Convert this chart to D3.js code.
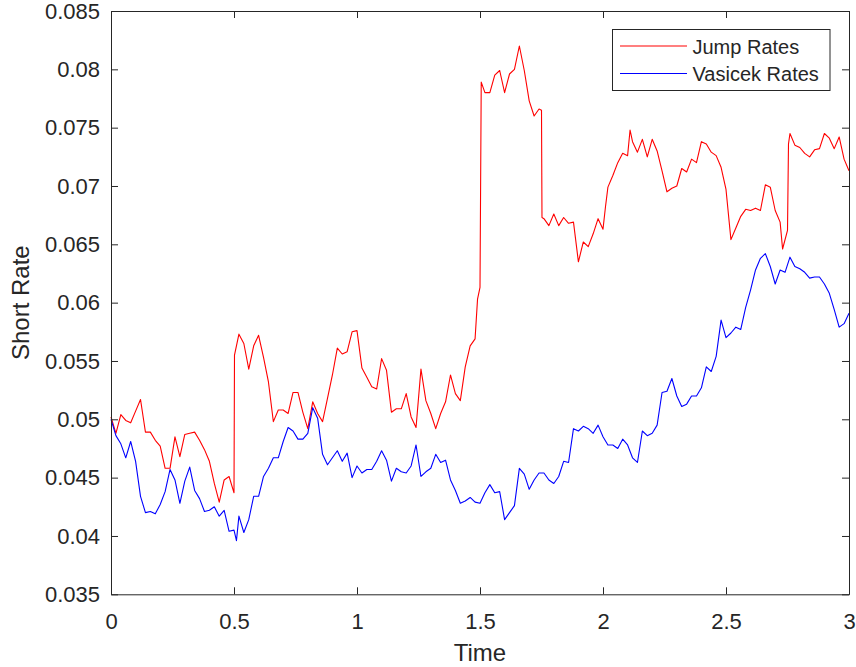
<!DOCTYPE html>
<html>
<head>
<meta charset="utf-8">
<script src="https://cdn.jsdelivr.net/npm/d3@7"></script>
<style>
  html, body { margin: 0; padding: 0; background: #fff; }
  svg { display: block; font-family: "Liberation Sans", Arial, Helvetica, sans-serif; }
</style>
</head>
<body>
<div id="chart"></div>
<script>
// jump-diffusion path (red) -- own time grid, extra points at the jumps
const jumpTimes = [
  0, 0.02, 0.04, 0.06, 0.08, 0.10, 0.12, 0.14, 0.16, 0.18, 0.20, 0.22, 0.24, 0.26, 0.28, 0.30,
  0.32, 0.34, 0.36, 0.38, 0.40, 0.42, 0.44, 0.46, 0.48, 0.50, 0.502, 0.52, 0.54, 0.56, 0.58, 0.60,
  0.62, 0.64, 0.66, 0.68, 0.70, 0.72, 0.74, 0.76, 0.78, 0.80, 0.82, 0.84, 0.86, 0.88, 0.90, 0.92,
  0.94, 0.96, 0.98, 1.00, 1.02, 1.04, 1.06, 1.08, 1.10, 1.12, 1.14, 1.16, 1.18, 1.20, 1.22, 1.24,
  1.26, 1.28, 1.30, 1.32, 1.34, 1.36, 1.38, 1.40, 1.42, 1.44, 1.46, 1.48, 1.49, 1.50, 1.505, 1.52,
  1.54, 1.56, 1.58, 1.60, 1.62, 1.64, 1.66, 1.68, 1.70, 1.72, 1.74, 1.75, 1.752, 1.76, 1.78, 1.80,
  1.82, 1.84, 1.86, 1.88, 1.90, 1.92, 1.94, 1.96, 1.98, 2.00, 2.01, 2.02, 2.04, 2.06, 2.08, 2.10,
  2.11, 2.12, 2.14, 2.16, 2.18, 2.20, 2.22, 2.24, 2.26, 2.28, 2.30, 2.32, 2.34, 2.36, 2.38, 2.40,
  2.42, 2.44, 2.46, 2.48, 2.50, 2.52, 2.54, 2.56, 2.58, 2.60, 2.62, 2.64, 2.66, 2.68, 2.70, 2.72,
  2.73, 2.75, 2.754, 2.76, 2.78, 2.80, 2.82, 2.84, 2.86, 2.88, 2.90, 2.92, 2.94, 2.96, 2.98, 3.00
];
const jumpRates = [
  0.0502, 0.0488, 0.0504, 0.0499, 0.0497, 0.0507, 0.0517, 0.0489, 0.0489, 0.0482, 0.0477, 0.0458, 0.0458, 0.0485, 0.0468, 0.0487,
  0.0488, 0.0489, 0.0482, 0.0474, 0.0464, 0.0445, 0.0429, 0.0448, 0.0451, 0.0437, 0.0555, 0.0573, 0.0565, 0.0543, 0.0563, 0.0572,
  0.0553, 0.0532, 0.0498, 0.0508, 0.0508, 0.0505, 0.0523, 0.0523, 0.0506, 0.0492, 0.0515, 0.0505, 0.0498, 0.0518, 0.0538, 0.0561,
  0.0556, 0.0558, 0.0575, 0.0576, 0.0544, 0.0536, 0.0528, 0.0526, 0.0552, 0.0542, 0.0506, 0.0509, 0.0509, 0.0522, 0.0502, 0.0493,
  0.0543, 0.0516, 0.0505, 0.0492, 0.0505, 0.0515, 0.0538, 0.0522, 0.0516, 0.0545, 0.0563, 0.0569, 0.0603, 0.0613, 0.0789, 0.0780,
  0.0780, 0.0795, 0.0799, 0.0780, 0.0796, 0.0800, 0.0820, 0.0799, 0.0773, 0.0760, 0.0766, 0.0765, 0.0673, 0.0672, 0.0666, 0.0676,
  0.0666, 0.0673, 0.0668, 0.0669, 0.0635, 0.0652, 0.0648, 0.0659, 0.0672, 0.0663, 0.0682, 0.0699, 0.0709, 0.0720, 0.0728, 0.0726,
  0.0748, 0.0738, 0.0729, 0.0740, 0.0725, 0.0740, 0.0730, 0.0713, 0.0695, 0.0698, 0.0700, 0.0715, 0.0712, 0.0723, 0.0720, 0.0738,
  0.0736, 0.0729, 0.0726, 0.0716, 0.0697, 0.0654, 0.0664, 0.0674, 0.0680, 0.0679, 0.0681, 0.0679, 0.0701, 0.0699, 0.0679, 0.0669,
  0.0646, 0.0662, 0.0736, 0.0745, 0.0735, 0.0733, 0.0728, 0.0725, 0.0731, 0.0732, 0.0745, 0.0741, 0.0732, 0.0742, 0.0723, 0.0713
];

// Vasicek path (blue)
const vasicekTimes = [
  0, 0.02, 0.04, 0.06, 0.08, 0.10, 0.12, 0.14, 0.16, 0.18, 0.20, 0.22, 0.24, 0.26, 0.28, 0.30,
  0.32, 0.34, 0.36, 0.38, 0.40, 0.42, 0.44, 0.46, 0.48, 0.50, 0.51, 0.52, 0.54, 0.56, 0.58, 0.60,
  0.62, 0.64, 0.66, 0.68, 0.70, 0.72, 0.74, 0.76, 0.78, 0.80, 0.82, 0.84, 0.86, 0.88, 0.90, 0.92,
  0.94, 0.96, 0.98, 1.00, 1.02, 1.04, 1.06, 1.08, 1.10, 1.12, 1.14, 1.16, 1.18, 1.20, 1.22, 1.24,
  1.26, 1.28, 1.30, 1.32, 1.34, 1.36, 1.38, 1.40, 1.42, 1.44, 1.46, 1.48, 1.50, 1.52, 1.54, 1.56,
  1.58, 1.60, 1.62, 1.64, 1.66, 1.68, 1.70, 1.72, 1.74, 1.76, 1.78, 1.80, 1.82, 1.84, 1.86, 1.88,
  1.90, 1.92, 1.94, 1.96, 1.98, 2.00, 2.02, 2.04, 2.06, 2.08, 2.10, 2.12, 2.14, 2.16, 2.18, 2.20,
  2.22, 2.24, 2.26, 2.28, 2.30, 2.32, 2.34, 2.36, 2.38, 2.40, 2.42, 2.44, 2.46, 2.48, 2.50, 2.52,
  2.54, 2.56, 2.58, 2.60, 2.62, 2.64, 2.66, 2.68, 2.70, 2.72, 2.74, 2.76, 2.78, 2.80, 2.82, 2.84,
  2.86, 2.88, 2.90, 2.92, 2.94, 2.96, 2.98, 3.00
];
const vasicekRates = [
  0.0500, 0.0486, 0.0479, 0.0467, 0.0481, 0.0464, 0.0434, 0.0420, 0.0421, 0.0419, 0.0427, 0.0438, 0.0457, 0.0448, 0.0428, 0.0447,
  0.0459, 0.0439, 0.0432, 0.0421, 0.0422, 0.0425, 0.0417, 0.0422, 0.0404, 0.0405, 0.0396, 0.0417, 0.0403, 0.0414, 0.0434, 0.0434,
  0.0451, 0.0458, 0.0467, 0.0467, 0.0481, 0.0493, 0.0490, 0.0483, 0.0483, 0.0488, 0.0510, 0.0501, 0.0470, 0.0461, 0.0467, 0.0473,
  0.0464, 0.0471, 0.0450, 0.0460, 0.0454, 0.0457, 0.0457, 0.0464, 0.0473, 0.0465, 0.0447, 0.0458, 0.0455, 0.0454, 0.0460, 0.0478,
  0.0451, 0.0455, 0.0458, 0.0470, 0.0463, 0.0465, 0.0448, 0.0439, 0.0428, 0.0430, 0.0433, 0.0429, 0.0428, 0.0437, 0.0444, 0.0437,
  0.0438, 0.0414, 0.0420, 0.0426, 0.0458, 0.0453, 0.0440, 0.0448, 0.0454, 0.0454, 0.0448, 0.0445, 0.0451, 0.0464, 0.0463, 0.0492,
  0.0490, 0.0494, 0.0492, 0.0488, 0.0495, 0.0485, 0.0478, 0.0478, 0.0475, 0.0483, 0.0478, 0.0467, 0.0463, 0.0490, 0.0486, 0.0488,
  0.0495, 0.0523, 0.0524, 0.0535, 0.0520, 0.0511, 0.0513, 0.0520, 0.0520, 0.0527, 0.0545, 0.0541, 0.0554, 0.0585, 0.0570, 0.0574,
  0.0579, 0.0577, 0.0596, 0.0611, 0.0628, 0.0638, 0.0642, 0.0631, 0.0616, 0.0628, 0.0626, 0.0639, 0.0631, 0.0629, 0.0626, 0.0621,
  0.0622, 0.0622, 0.0616, 0.0608, 0.0594, 0.0579, 0.0582, 0.0591
];

const xTicks = [0, 0.5, 1, 1.5, 2, 2.5, 3];
const xTickLabels = ["0", "0.5", "1", "1.5", "2", "2.5", "3"];
const yTicks = [0.035, 0.04, 0.045, 0.05, 0.055, 0.06, 0.065, 0.07, 0.075, 0.08, 0.085];
const yTickLabels = ["0.035", "0.04", "0.045", "0.05", "0.055", "0.06", "0.065", "0.07", "0.075", "0.08", "0.085"];
const seriesNames = ["Jump Rates", "Vasicek Rates"];
const seriesColors = ["#ff0000", "#0000ff"];

const W = 856, H = 667;
const margin = {top: 11, right: 7, bottom: 72.7, left: 111};
const width = W - margin.left - margin.right,
    height = H - margin.top - margin.bottom;
const ink = "#262626";

const x = d3.scaleLinear().domain([0, 3]).range([0, width]);
const y = d3.scaleLinear().domain([0.035, 0.085]).range([height, 0]);

const svg = d3.select("#chart").append("svg")
    .attr("width", W)
    .attr("height", H);

const main = svg.append("g")
    .attr("transform", "translate(" + margin.left + "," + margin.top + ")");

// lines first, axes box drawn over them
const line = d3.line().x(d => x(d[0])).y(d => y(d[1]));
const series = [
    {name: seriesNames[0], color: seriesColors[0], points: d3.zip(jumpTimes, jumpRates)},
    {name: seriesNames[1], color: seriesColors[1], points: d3.zip(vasicekTimes, vasicekRates)}
];
main.selectAll("path.series")
    .data(series)
    .enter().append("path")
    .attr("class", "series")
    .attr("d", d => line(d.points))
    .attr("fill", "none")
    .attr("stroke", d => d.color)
    .attr("stroke-width", 1.1)
    .attr("stroke-linejoin", "round");

const fmtX = d => xTickLabels[xTicks.indexOf(d)];
const fmtY = d => yTickLabels[yTicks.indexOf(d)];

const xAxis = d3.axisBottom(x).tickValues(xTicks).tickFormat(fmtX)
    .tickSizeInner(-7).tickSizeOuter(0).tickPadding(19);
const xTop = d3.axisTop(x).tickValues(xTicks).tickFormat("")
    .tickSizeInner(-7).tickSizeOuter(0);
const yAxis = d3.axisLeft(y).tickValues(yTicks).tickFormat(fmtY)
    .tickSizeInner(-7).tickSizeOuter(0).tickPadding(11);
const yRight = d3.axisRight(y).tickValues(yTicks).tickFormat("")
    .tickSizeInner(-7).tickSizeOuter(0);

main.append("g").attr("transform", "translate(0," + height + ")").call(xAxis);
main.append("g").call(xTop);
main.append("g").call(yAxis);
main.append("g").attr("transform", "translate(" + width + ",0)").call(yRight);

main.selectAll(".domain, .tick line").attr("stroke", ink).attr("stroke-width", 1);
main.selectAll(".tick text")
    .attr("fill", ink)
    .style("font-size", "22px")
    .style("font-family", "'Liberation Sans', Arial, sans-serif");

// axis labels
svg.append("text")
    .attr("x", margin.left + width / 2)
    .attr("y", 661)
    .attr("text-anchor", "middle")
    .attr("fill", ink)
    .style("font-size", "24px")
    .text("Time");

svg.append("text")
    .attr("transform", "translate(29," + (margin.top + height / 2) + ") rotate(-90)")
    .attr("text-anchor", "middle")
    .attr("fill", ink)
    .style("font-size", "24px")
    .text("Short Rate");

// legend
const legend = svg.append("g").attr("transform", "translate(612.5,29.5)");
legend.append("rect")
    .attr("width", 217.5)
    .attr("height", 61)
    .attr("fill", "#fff")
    .attr("stroke", ink)
    .attr("stroke-width", 1);

const item = legend.selectAll("g.item")
    .data(series)
    .enter().append("g")
    .attr("class", "item")
    .attr("transform", (d, i) => "translate(0," + (16.5 + i * 27.5) + ")");
item.append("line")
    .attr("x1", 7.5).attr("x2", 74.5)
    .attr("y1", 0).attr("y2", 0)
    .attr("stroke", d => d.color)
    .attr("stroke-width", 1.1);
item.append("text")
    .attr("x", 80)
    .attr("y", 7.5)
    .attr("fill", ink)
    .style("font-size", "20px")
    .text(d => d.name);
</script>
</body>
</html>
